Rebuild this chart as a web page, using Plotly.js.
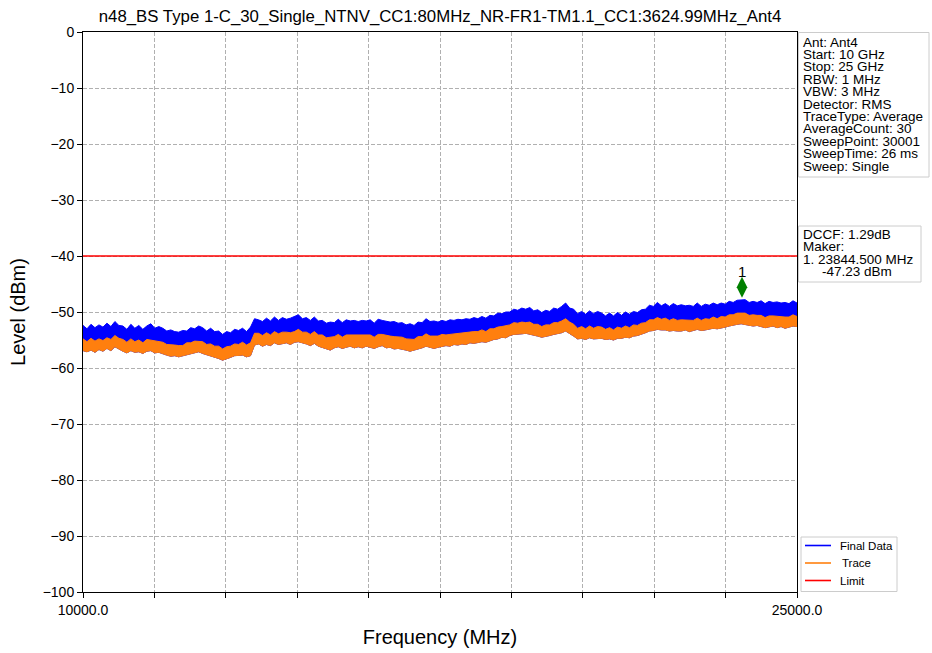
<!DOCTYPE html>
<html>
<head>
<meta charset="utf-8">
<script src="https://cdn.plot.ly/plotly-3.0.1.min.js"></script>
<style>html,body{margin:0;padding:0;background:#fff;}#chart{width:932px;height:653px;}</style>
</head>
<body>
<div id="chart"></div>
<script>
// ---------------- DATA ----------------
const freqStartMHz = 10000;
const freqStopMHz = 25000;

// Final Data (blue): upper edge of the noise band, dBm (left to right)
const finalDataTop = [
  -52.4,-53.0,-52.2,-52.8,-52.3,-52.7,-52.0,-52.6,-51.7,-52.4,
  -52.5,-53.1,-52.2,-52.9,-52.4,-53.1,-52.5,-52.1,-52.9,-52.6,
  -52.9,-53.4,-53.2,-53.5,-53.6,-53.3,-53.4,-52.8,-53.0,-52.5,
  -52.8,-53.4,-52.9,-53.5,-53.4,-54.0,-53.5,-53.7,-53.1,-53.3,
  -52.9,-53.5,-52.7,-51.2,-51.4,-51.7,-51.1,-51.6,-50.9,-51.5,
  -51.0,-51.3,-51.1,-50.8,-50.5,-51.2,-51.0,-51.5,-50.9,-51.6,
  -51.5,-52.0,-51.8,-51.9,-51.3,-51.9,-51.4,-51.6,-51.5,-51.7,
  -51.5,-51.6,-51.4,-52.0,-51.3,-51.5,-51.6,-51.8,-51.7,-52.0,
  -51.9,-52.3,-52.1,-52.4,-51.8,-51.9,-51.2,-51.7,-51.6,-51.8,
  -51.5,-51.7,-51.4,-51.5,-51.3,-51.4,-51.2,-51.3,-51.0,-51.2,
  -50.8,-51.1,-50.6,-50.7,-50.2,-50.3,-50.0,-50.0,-49.5,-49.7,
  -49.3,-49.5,-49.2,-49.8,-49.6,-50.1,-49.7,-49.9,-49.3,-49.5,
  -49.0,-48.4,-49.3,-49.5,-50.3,-49.9,-50.4,-49.8,-50.3,-49.9,
  -50.2,-50.7,-50.2,-50.7,-50.1,-50.6,-50.0,-50.4,-49.9,-50.1,
  -49.6,-49.5,-48.8,-49.0,-48.3,-48.9,-48.5,-49.0,-48.5,-48.9,
  -48.7,-48.9,-48.8,-49.0,-48.4,-49.0,-48.6,-48.8,-48.4,-48.7,
  -48.4,-48.6,-48.1,-48.3,-47.9,-47.9,-47.8,-48.3,-48.1,-48.3,
  -48.0,-48.5,-48.1,-48.3,-48.2,-48.4,-48.3,-48.5,-48.0,-48.4
];

// Trace (orange): upper edge of the noise band, dBm
const traceTop = [
  -54.8,-55.3,-54.7,-55.2,-54.8,-55.1,-54.6,-54.9,-54.2,-54.7,
  -54.9,-55.4,-54.8,-55.3,-55.0,-55.5,-54.9,-55.0,-55.2,-55.3,
  -55.4,-55.8,-55.8,-55.9,-56.0,-56.0,-55.5,-55.5,-55.2,-55.2,
  -55.3,-55.8,-55.7,-56.1,-56.1,-56.6,-56.2,-56.1,-55.7,-55.8,
  -55.4,-55.9,-55.5,-53.8,-53.8,-54.2,-53.7,-54.1,-53.5,-53.9,
  -53.6,-53.6,-53.7,-53.5,-53.1,-53.6,-53.6,-54.0,-53.5,-54.1,
  -54.1,-54.6,-54.5,-54.4,-54.0,-54.5,-54.1,-54.1,-54.2,-54.2,
  -54.2,-54.1,-54.1,-54.5,-54.0,-54.0,-54.2,-54.3,-54.4,-54.5,
  -54.5,-54.8,-54.8,-54.9,-54.4,-54.4,-53.9,-54.3,-54.3,-54.3,
  -54.0,-54.1,-54.0,-53.9,-53.8,-53.8,-53.7,-53.6,-53.5,-53.5,
  -53.2,-53.5,-53.0,-53.0,-52.7,-52.6,-52.5,-52.3,-51.9,-52.0,
  -51.8,-51.9,-51.8,-52.2,-52.2,-52.6,-52.3,-52.3,-51.9,-51.9,
  -51.6,-51.2,-51.8,-52.2,-52.9,-52.6,-53.0,-52.5,-52.9,-52.6,
  -52.7,-53.1,-52.8,-53.2,-52.7,-52.9,-52.5,-52.8,-52.3,-52.4,
  -52.0,-51.9,-51.4,-51.4,-51.0,-51.3,-51.1,-51.5,-51.2,-51.5,
  -51.4,-51.4,-51.5,-51.5,-51.1,-51.5,-51.2,-51.3,-50.9,-51.2,
  -50.8,-50.9,-50.5,-50.5,-50.2,-50.2,-50.2,-50.6,-50.5,-50.6,
  -50.6,-51.0,-50.7,-50.7,-50.8,-50.8,-50.9,-50.9,-50.5,-50.8
];

// Trace (orange): lower edge of the noise band, dBm
const traceBottom = [
  -56.9,-57.1,-56.8,-57.2,-56.7,-57.0,-56.5,-56.9,-56.2,-56.6,
  -57.0,-57.3,-56.9,-57.2,-57.1,-57.4,-57.0,-56.9,-57.3,-57.2,
  -57.5,-57.7,-57.9,-57.8,-58.0,-57.9,-57.6,-57.4,-57.3,-57.1,
  -57.4,-57.7,-57.8,-58.1,-58.3,-58.6,-58.4,-58.1,-57.8,-57.7,
  -57.7,-58.0,-57.8,-55.9,-55.7,-56.1,-55.8,-56.0,-55.5,-55.8,
  -55.7,-55.5,-55.8,-55.4,-55.3,-55.5,-55.7,-56.0,-55.6,-56.1,
  -56.3,-56.6,-56.8,-56.4,-56.2,-56.5,-56.3,-56.1,-56.4,-56.2,
  -56.4,-56.1,-56.3,-56.5,-56.2,-56.0,-56.4,-56.3,-56.6,-56.5,
  -56.7,-56.8,-57.0,-56.9,-56.6,-56.4,-56.1,-56.3,-56.5,-56.3,
  -56.1,-56.0,-56.1,-55.8,-55.9,-55.7,-55.8,-55.5,-55.6,-55.4,
  -55.3,-55.4,-55.1,-54.9,-54.8,-54.5,-54.6,-54.2,-54.0,-53.9,
  -53.9,-53.8,-53.9,-54.1,-54.3,-54.5,-54.4,-54.2,-54.0,-53.8,
  -53.7,-53.4,-53.8,-54.3,-54.8,-54.7,-54.9,-54.6,-54.8,-54.7,
  -54.7,-54.9,-54.8,-55.0,-54.7,-54.7,-54.5,-54.6,-54.3,-54.2,
  -54.0,-53.7,-53.4,-53.3,-53.1,-53.2,-53.2,-53.4,-53.3,-53.4,
  -53.4,-53.2,-53.5,-53.3,-53.1,-53.3,-53.2,-53.1,-52.9,-53.0,
  -52.8,-52.7,-52.5,-52.3,-52.2,-52.1,-52.2,-52.4,-52.5,-52.4,
  -52.6,-52.8,-52.7,-52.5,-52.8,-52.6,-52.9,-52.7,-52.5,-52.6
];

const limitFreq = [10000, 25000];
const limitLevel = [-40, -40];

const markerFreq = [23844.5];
const markerLevel = [-45.6];
const markerLabel = ['1'];

const yTickVals = [0, -10, -20, -30, -40, -50, -60, -70, -80, -90, -100];
const yTickText = ['0', '\u221210', '\u221220', '\u221230', '\u221240', '\u221250', '\u221260', '\u221270', '\u221280', '\u221290', '\u2212100'];
const xTickVals = [10000, 11500, 13000, 14500, 16000, 17500, 19000, 20500, 22000, 23500, 25000];
const xTickText = ['10000.0', '', '', '', '', '', '', '', '', '', '25000.0'];

const chartTitle = 'n48_BS Type 1-C_30_Single_NTNV_CC1:80MHz_NR-FR1-TM1.1_CC1:3624.99MHz_Ant4';
const infoLines = ['Ant: Ant4', 'Start: 10 GHz', 'Stop: 25 GHz', 'RBW: 1 MHz', 'VBW: 3 MHz',
  'Detector: RMS', 'TraceType: Average', 'AverageCount: 30', 'SweepPoint: 30001',
  'SweepTime: 26 ms', 'Sweep: Single'];
const markerInfoLines = ['DCCF: 1.29dB', 'Maker:', '1. 23844.500 MHz', '-47.23 dBm'];
const legendNames = ['Final Data', 'Trace', 'Limit'];
const legendColors = ['#0000ff', '#ff7f0e', '#ff0000'];

// ---------------- BUILD ----------------
function band(hi, lo) {
  const n = hi.length, span = freqStopMHz - freqStartMHz;
  const fx = i => freqStartMHz + i * span / (n - 1);
  const xs = [], ys = [];
  for (let i = 0; i < n; i++) { xs.push(fx(i)); ys.push(hi[i]); }
  for (let i = n - 1; i >= 0; i--) { xs.push(fx(i)); ys.push(lo[i]); }
  xs.push(fx(0)); ys.push(hi[0]);
  return {x: xs, y: ys};
}

const blue = band(finalDataTop, traceBottom);
const orange = band(traceTop, traceBottom);

const FONT = 'Liberation Sans, Arial, Helvetica, sans-serif';
const W = 932, H = 653, L = 83, R = 797, T = 32, B = 592;
const px = v => (v - L) / (R - L);
const py = v => (B - v) / (B - T);

const traces = [
  {x: blue.x, y: blue.y, type: 'scatter', mode: 'lines', name: legendNames[0], fill: 'toself',
   fillcolor: legendColors[0], line: {color: legendColors[0], width: 1}, showlegend: false},
  {x: orange.x, y: orange.y, type: 'scatter', mode: 'lines', name: legendNames[1], fill: 'toself',
   fillcolor: legendColors[1], line: {color: legendColors[1], width: 1}, showlegend: false},
  {x: limitFreq, y: limitLevel, type: 'scatter', mode: 'lines', name: legendNames[2],
   line: {color: legendColors[2], width: 1.3}, showlegend: false},
  {x: markerFreq, y: markerLevel, type: 'scatter', mode: 'markers', name: 'Marker',
   marker: {symbol: 'diamond-tall', size: 15, color: '#008000'}, showlegend: false}
];

const annotations = [];
infoLines.forEach((t, i) => {
  annotations.push({text: t, xref: 'paper', yref: 'paper', x: px(801), y: py(42 + i * 12.4),
    xanchor: 'left', yanchor: 'middle', showarrow: false, font: {family: FONT, size: 13.5, color: '#000'}});
});
const mkX = [801, 801, 801, 820];
markerInfoLines.forEach((t, i) => {
  annotations.push({text: t, xref: 'paper', yref: 'paper', x: px(mkX[i]), y: py(234 + i * 12.5),
    xanchor: 'left', yanchor: 'middle', showarrow: false, font: {family: FONT, size: 13.5, color: '#000'}});
});
// marker number above the diamond
annotations.push({text: markerLabel[0], xref: 'x', yref: 'y', x: markerFreq[0], y: markerLevel[0],
  xanchor: 'center', yanchor: 'bottom', yshift: 5, showarrow: false, font: {family: FONT, size: 15, color: '#000'}});

const shapes = [
  {type: 'rect', xref: 'paper', yref: 'paper', x0: px(798.5), x1: px(929), y0: py(32.5), y1: py(177),
   line: {color: '#cccccc', width: 1}, fillcolor: 'rgba(255,255,255,0.8)', layer: 'above'},
  {type: 'rect', xref: 'paper', yref: 'paper', x0: px(798.5), x1: px(921), y0: py(226), y1: py(282),
   line: {color: '#cccccc', width: 1}, fillcolor: 'rgba(255,255,255,0.8)', layer: 'above'},
  {type: 'rect', xref: 'paper', yref: 'paper', x0: px(801), x1: px(897), y0: py(537), y1: py(591.5),
   line: {color: '#cccccc', width: 1}, fillcolor: '#ffffff', layer: 'above'}
];
const legendY = [545.5, 563, 580.5];
legendNames.forEach((nm, i) => {
  shapes.push({type: 'line', xref: 'paper', yref: 'paper', x0: px(805), x1: px(831), y0: py(legendY[i]), y1: py(legendY[i]),
    line: {color: legendColors[i], width: 1.6}, layer: 'above'});
  annotations.push({text: nm, xref: 'paper', yref: 'paper', x: px(i === 1 ? 840 : 838), y: py(legendY[i]),
    xanchor: 'left', yanchor: 'middle', showarrow: false, font: {family: FONT, size: 11.5, color: '#000'}});
});

const layout = {
  width: W, height: H,
  margin: {l: L, r: W - R, t: T, b: H - B, pad: 0},
  paper_bgcolor: '#ffffff', plot_bgcolor: '#ffffff',
  font: {family: FONT, color: '#000'},
  showlegend: false,
  title: {text: chartTitle, font: {family: FONT, size: 16.8, color: '#000'},
    x: 0.5, xref: 'paper', xanchor: 'center', y: 1 - 16 / H, yref: 'container', yanchor: 'middle'},
  xaxis: {
    range: [freqStartMHz, freqStopMHz], tickmode: 'array', tickvals: xTickVals, ticktext: xTickText,
    ticks: 'outside', ticklen: 5, tickwidth: 1, tickcolor: '#000',
    showline: true, linecolor: '#000', linewidth: 1, mirror: true,
    showgrid: true, gridcolor: '#b0b0b0', gridwidth: 1, griddash: '4px,2px',
    zeroline: false, tickfont: {family: FONT, size: 14, color: '#000'},
    title: {text: 'Frequency (MHz)', font: {family: FONT, size: 20, color: '#000'}, standoff: 13},
    automargin: false
  },
  yaxis: {
    range: [-100, 0], tickmode: 'array', tickvals: yTickVals, ticktext: yTickText,
    ticks: 'outside', ticklen: 5, tickwidth: 1, tickcolor: '#000',
    showline: true, linecolor: '#000', linewidth: 1, mirror: true,
    showgrid: true, gridcolor: '#b0b0b0', gridwidth: 1, griddash: '4px,2px',
    zeroline: false, tickfont: {family: FONT, size: 14, color: '#000'},
    title: {text: 'Level (dBm)', font: {family: FONT, size: 20, color: '#000'}, standoff: 11},
    automargin: false
  },
  annotations: annotations,
  shapes: shapes
};

Plotly.newPlot('chart', traces, layout, {displayModeBar: false, staticPlot: true});
</script>
</body>
</html>
